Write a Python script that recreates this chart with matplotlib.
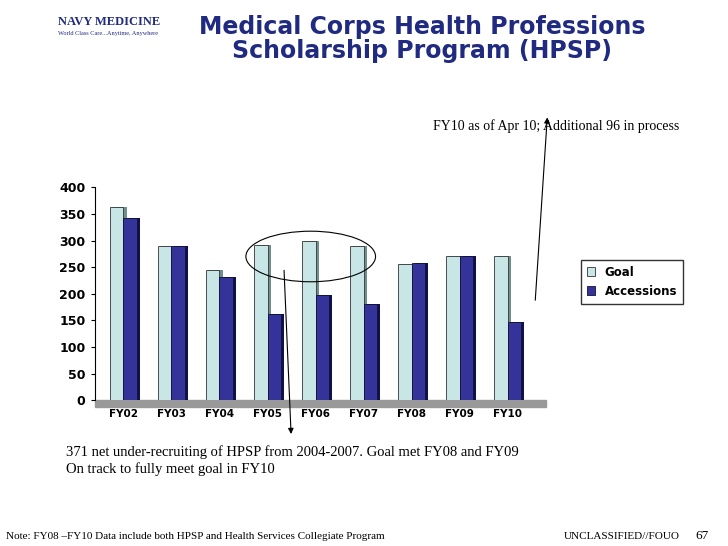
import matplotlib
matplotlib.use("Agg")
import matplotlib.pyplot as plt
import numpy as np
from matplotlib.patches import Ellipse

categories = ["FY02","FY03","FY04","FY05","FY06","FY07","FY08","FY09","FY10"]
goal = [363, 290, 245, 292, 300, 290, 255, 270, 270]
accessions = [343, 290, 232, 162, 197, 180, 257, 270, 146]
yticks = [0,50,100,150,200,250,300,350,400]

fig = plt.figure(figsize=(7.28,5.46), dpi=100)
fig.patch.set_facecolor("white")
ax = fig.add_axes([0.13, 0.267, 0.62, 0.39])
x = np.arange(len(categories))
w = 0.28
ax.bar(x - w/2 + 0.07, goal, w, color="#6f8f8f", zorder=1)
ax.bar(x + w/2 + 0.07, accessions, w, color="#101050", zorder=1)
ax.bar(x - w/2, goal, w, color="#c8e6e6", edgecolor="#333333", lw=0.6, zorder=2, label="Goal")
ax.bar(x + w/2, accessions, w, color="#33339a", edgecolor="#111133", lw=0.6, zorder=2, label="Accessions")
ax.set_xlim(-0.6, len(categories)-0.2)
ax.set_ylim(0, 400)
ax.set_yticks(yticks)
ax.set_xticks(x)
ax.set_xticklabels(categories, fontsize=7.5, fontweight="bold")
ax.tick_params(axis="y", labelsize=9, length=3)
for lab in ax.get_yticklabels():
    lab.set_fontweight("bold")
ax.tick_params(axis="x", length=0, pad=6)
for s in ["top","right"]:
    ax.spines[s].set_visible(False)
ax.spines["bottom"].set_visible(False)
ax.axhspan(-12, 0, xmin=0, xmax=1, color="#999999", clip_on=False, zorder=0)
ax.add_patch(Ellipse((3.9, 270), 2.7, 95, fill=False, lw=0.8, edgecolor="black", zorder=3))
fig.legend(loc="upper left", bbox_to_anchor=(0.79, 0.535), frameon=True,
           fancybox=False, edgecolor="black", handlelength=0.7, borderpad=0.5,
           prop={"weight":"bold", "size":8.5})

fig.text(0.58, 0.972, "Medical Corps Health Professions\nScholarship Program (HPSP)",
         ha="center", va="top", fontsize=17, fontweight="bold", color="#1f2a80",
         linespacing=1.0)
fig.text(0.08, 0.955, "NAVY MEDICINE", fontsize=9, fontweight="bold", color="#1f2a80",
         family="Liberation Serif")
fig.text(0.08, 0.935, "World Class Care...Anytime, Anywhere", fontsize=4.5, color="#1f2a80",
         family="Liberation Serif")
fig.text(0.595, 0.762, "FY10 as of Apr 10; Additional 96 in process", fontsize=10,
         family="Liberation Serif")
fig.text(0.09, 0.185, "371 net under-recruiting of HPSP from 2004-2007. Goal met FY08 and FY09\nOn track to fully meet goal in FY10",
         va="top", fontsize=10.5, family="Liberation Serif", linespacing=1.3)
fig.text(0.008, 0.012, "Note: FY08 \u2013FY10 Data include both HPSP and Health Services Collegiate Program",
         fontsize=8, family="Liberation Serif")
fig.text(0.775, 0.012, "UNCLASSIFIED//FOUO", fontsize=8, family="Liberation Serif")
fig.text(0.955, 0.012, "67", fontsize=9.5, family="Liberation Serif")
fig.add_artist(matplotlib.patches.FancyArrowPatch((0.735, 0.445), (0.752, 0.79),
               transform=fig.transFigure, arrowstyle="-|>", mutation_scale=8, lw=0.8, color="black"))
fig.add_artist(matplotlib.patches.FancyArrowPatch((0.39, 0.51), (0.4, 0.2),
               transform=fig.transFigure, arrowstyle="-|>", mutation_scale=8, lw=0.8, color="black"))
fig.savefig("out.png", dpi=100)
